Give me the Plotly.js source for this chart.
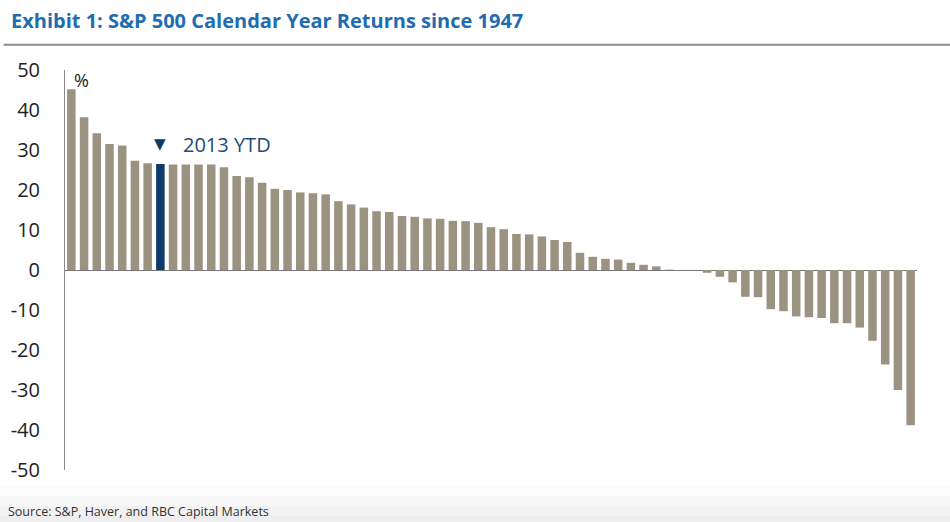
<!DOCTYPE html>
<html>
<head>
<meta charset="utf-8">
<script src="https://cdn.plot.ly/plotly-3.0.1.min.js"></script>
<style>
  html, body { margin: 0; padding: 0; background: #fff; }
  #chart { width: 950px; height: 522px; }
</style>
</head>
<body>
<div id="chart"></div>
<script>
// Calendar-year returns (%), sorted high to low
const returnsPct = [
    45.2, 38.2, 34.2, 31.5, 31.1, 27.3, 26.7, 26.5, 26.4, 26.4,
    26.4, 26.4, 25.7, 23.5, 23.2, 21.8, 20.3, 20.0, 19.4, 19.2,
    18.9, 17.2, 16.4, 15.6, 14.7, 14.5, 13.5, 13.3, 12.9, 12.8,
    12.3, 12.2, 11.8, 10.7, 10.2, 9.0, 8.9, 8.4, 7.5, 7.0,
    4.3, 3.3, 2.8, 2.6, 1.8, 1.3, 0.9, 0.1, 0.0, 0.0,
    -0.7, -1.7, -3.1, -6.7, -6.8, -9.8, -10.3, -11.6, -11.8, -12.0,
    -13.3, -13.3, -14.4, -17.7, -23.6, -30.0, -38.8
];
const ranks = returnsPct.map((_, i) => i + 1);
const highlightRank = 8;          // the 2013 YTD bar
const highlightLabel = '2013 YTD';

const yTicks = [-50, -40, -30, -20, -10, 0, 10, 20, 30, 40, 50];

const barColor = '#9c9282';
const highlightColor = '#0d3a6a';
const colors = ranks.map(r => r === highlightRank ? highlightColor : barColor);

const font = "'Open Sans', 'Liberation Sans', sans-serif";

const trace = {
    type: 'bar',
    x: ranks,
    y: returnsPct,
    marker: { color: colors, line: { width: 0 } },
    hoverinfo: 'y'
};

// soft grey fade behind the source line
const fadeSteps = ['#fcfcfc', '#f7f7f7', '#f2f2f2', '#eeeeee'];
const fadeShapes = fadeSteps.map((c, i) => ({
    type: 'rect', xref: 'paper', yref: 'paper', x0: -0.08, x1: 1.05,
    y0: -0.04 - i * 0.025, y1: -0.04 - (i + 1) * 0.025 - (i === fadeSteps.length - 1 ? 0.04 : 0),
    fillcolor: c, line: { width: 0 }, layer: 'below'
}));

const layout = {
    width: 950,
    height: 522,
    margin: { l: 64.6, r: 33, t: 70, b: 52 },
    paper_bgcolor: '#ffffff',
    plot_bgcolor: '#ffffff',
    showlegend: false,
    bargap: 0.33,
    font: { family: font, color: '#222' },
    xaxis: {
        type: 'linear',
        range: [0.5, ranks.length + 0.5],
        showticklabels: false,
        showgrid: false,
        zeroline: false,
        showline: false,
        ticks: ''
    },
    yaxis: {
        range: [-50, 50],
        tickvals: yTicks,
        ticktext: yTicks.map(String),
        tickfont: { size: 20, color: '#222', family: font },
        ticklabelstandoff: 20,
        showgrid: false,
        showline: true,
        linecolor: '#8a8a8a',
        linewidth: 1,
        ticks: '',
        zeroline: true,
        zerolinecolor: '#777',
        zerolinewidth: 1
    },
    shapes: [
        // rule under the title
        { type: 'line', xref: 'paper', yref: 'paper', x0: -0.072, x1: 1.04, y0: 1.063, y1: 1.063,
          line: { color: '#8c8c8c', width: 2 } },
        ...fadeShapes
    ],
    annotations: [
        { text: '<b>Exhibit 1: S&P 500 Calendar Year Returns since 1947</b>',
          xref: 'paper', yref: 'paper', x: -0.066, y: 1.125, xanchor: 'left', yanchor: 'middle',
          showarrow: false, font: { size: 20, color: '#1f6cb0', family: font } },
        { text: '%', xref: 'paper', yref: 'paper', x: 0.008, y: 0.975, xanchor: 'left', yanchor: 'middle',
          showarrow: false, font: { size: 18, color: '#222', family: font } },
        { text: '▼', xref: 'x', yref: 'y', x: highlightRank, y: 31.5, xanchor: 'center', yanchor: 'middle',
          showarrow: false, font: { size: 15, color: highlightColor, family: 'DejaVu Sans' } },
        { text: highlightLabel, xref: 'x', yref: 'y', x: highlightRank, y: 31.5, xanchor: 'left', yanchor: 'middle',
          xshift: 21, showarrow: false, font: { size: 20, color: '#1d4a7a', family: font } },
        { text: 'Source: S&P, Haver, and RBC Capital Markets',
          xref: 'paper', yref: 'paper', x: -0.069, y: -0.1025, xanchor: 'left', yanchor: 'middle',
          showarrow: false, font: { size: 12.5, color: '#333', family: font } }
    ]
};

Plotly.newPlot('chart', [trace], layout, { displayModeBar: false, staticPlot: true });
</script>
</body>
</html>
